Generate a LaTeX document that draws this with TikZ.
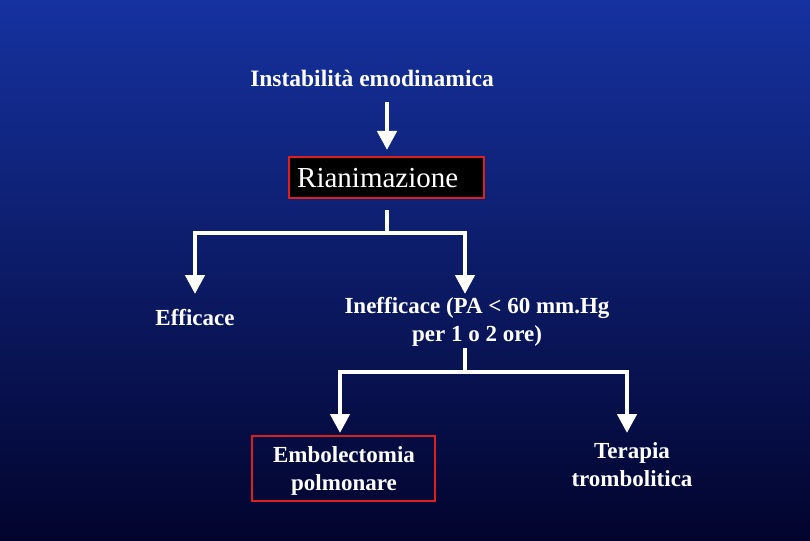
\documentclass[tikz,border=0pt]{standalone}
\usepackage{fontspec}
\setmainfont{Liberation Serif}
\usetikzlibrary{arrows.meta}
\begin{document}
\begin{tikzpicture}[x=1pt,y=-1pt,
  wl/.style={white,line width=4.5pt},
  wa/.style={wl,-{Triangle[width=19pt,length=19pt]}},
  lbl/.style={text=white,font=\bfseries\fontsize{23}{28}\selectfont,align=center,inner sep=0pt}]
\shade[top color={rgb,255:red,22;green,50;blue,160},bottom color={rgb,255:red,2;green,4;blue,45}] (0,0) rectangle (810,540);
\useasboundingbox (0,0) rectangle (810,540);
\node[lbl,font=\fontsize{23.5}{28}\selectfont\bfseries] (inst) at (372,78) {Instabilità emodinamica};
\node[draw={rgb,255:red,220;green,30;blue,30},line width=2pt,fill=black,minimum width=195pt,minimum height=41pt,inner sep=0pt] (rian) at (386.5,177.5) {};
\node[text=white,font=\fontsize{29}{32}\selectfont,anchor=west,inner sep=0pt] (riant) at (297,178) {Rianimazione};
\node[lbl] (eff) at (195,318) {Efficace};
\node[lbl] (ineff) at (477,322) {Inefficace (PA < 60 mm.Hg\\per 1 o 2 ore)};
\node[draw={rgb,255:red,220;green,30;blue,30},line width=2pt,minimum width=183pt,minimum height=65pt,inner sep=0pt] (emb) at (343.5,468.5) {};
\node[lbl] (embt) at (344,471) {Embolectomia\\polmonare};
\node[lbl] (ter) at (632,465) {Terapia\\trombolitica};
\coordinate (a1) at (387,102); \coordinate (a1e) at (387,150);
\draw[wa] (a1) -- (a1e);
\coordinate (b0) at (387,210); \coordinate (b1) at (387,233);
\coordinate (bl) at (195,233); \coordinate (br) at (465,233);
\draw[wl] (b0) -- (b1);
\draw[wl,line cap=rect] (bl) -- (br);
\draw[wa] (bl) -- (195,294);
\draw[wa] (br) -- (465,294);
\coordinate (c0) at (465,348); \coordinate (c1) at (465,372);
\coordinate (cl) at (340,372); \coordinate (cr) at (627,372);
\draw[wl] (c0) -- (c1);
\draw[wl,line cap=rect] (cl) -- (cr);
\draw[wa] (cl) -- (340,433);
\draw[wa] (cr) -- (627,433);
\end{tikzpicture}
\end{document}
